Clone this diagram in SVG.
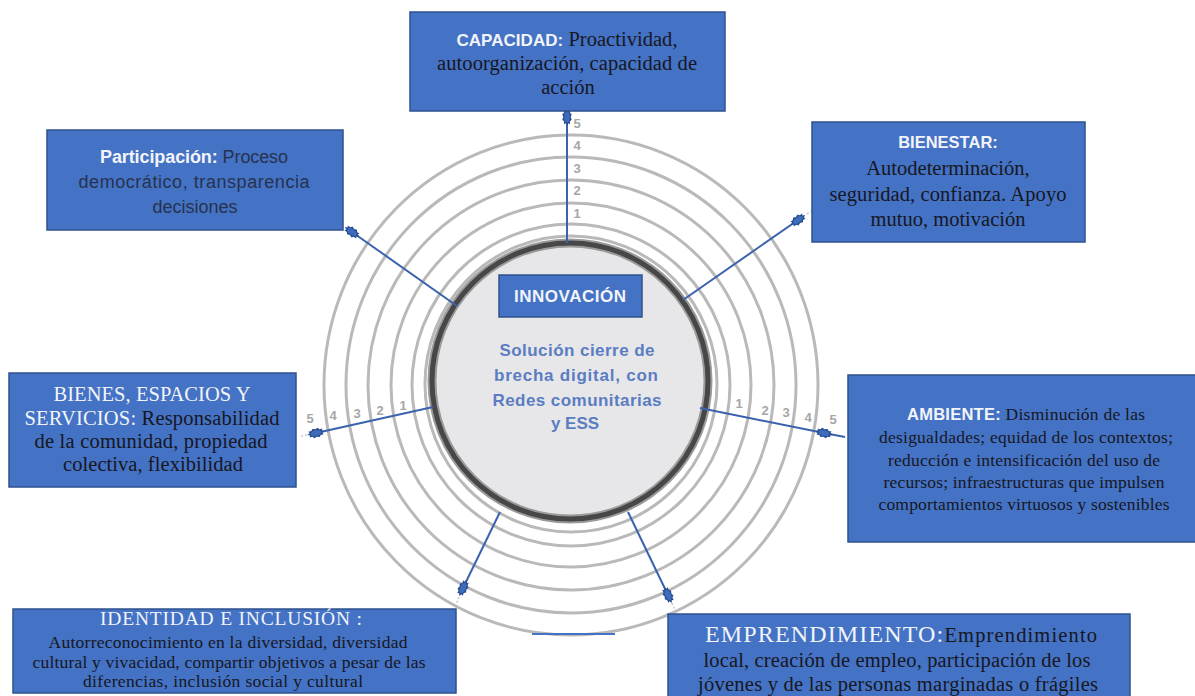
<svg xmlns="http://www.w3.org/2000/svg" width="1195" height="696" viewBox="0 0 1195 696">
<style>
.box{fill:#4472c4;stroke:#2f528f;stroke-width:1.5}
.serif{font-family:"Liberation Serif",serif}
.sans{font-family:"Liberation Sans",sans-serif}
.hd{fill:#f2f4fa}
.dk{fill:#17171f}
.nv{fill:#26324f}
.conn{stroke:#3a62ad;stroke-width:2;fill:none}
.tail{stroke:#c4c8d0;stroke-width:1.5;stroke-dasharray:2 2;fill:none}
.ring{fill:none;stroke:#b9b9b9;stroke-width:3}
.num{font-family:"Liberation Sans",sans-serif;font-weight:bold;font-size:13px;fill:#a6a6a6;text-anchor:middle}
.ctr{font-family:"Liberation Sans",sans-serif;font-weight:bold;font-size:17px;fill:#5a7dc2;text-anchor:middle}
text{text-anchor:middle}
</style>
<defs>
<marker id="splat" viewBox="0 0 16 10" refX="8" refY="5" markerWidth="18" markerHeight="11" markerUnits="userSpaceOnUse" orient="auto">
<polygon points="16,5 13.7,6.1 14.5,7.7 11.8,7.7 10.5,9.3 8,8.4 5.5,9.3 4.2,7.7 1.5,7.7 2.3,6.1 0,5 2.3,3.9 1.5,2.3 4.2,2.3 5.5,0.7 8,1.6 10.5,0.7 11.8,2.3 14.5,2.3 13.7,3.9" fill="#264f94"/>
<ellipse cx="8" cy="5" rx="5" ry="2.6" fill="#3f6cb8"/>
</marker>
</defs>
<rect width="1195" height="696" fill="#ffffff"/>

<g id="rings">
<ellipse class="ring" cx="571" cy="385" rx="247" ry="250"/>
<ellipse class="ring" cx="571" cy="385" rx="225" ry="228"/>
<ellipse class="ring" cx="571" cy="385" rx="203" ry="205"/>
<ellipse class="ring" cx="571" cy="385" rx="180" ry="182"/>
<ellipse class="ring" cx="571" cy="385" rx="159" ry="161"/>
<ellipse class="ring" cx="571" cy="384" rx="146" ry="148"/>
<line x1="532" y1="634" x2="615" y2="634" stroke="#4472c4" stroke-width="2"/>
</g>

<g id="scale-labels">
<text class="num" x="577" y="128">5</text>
<text class="num" x="577" y="150">4</text>
<text class="num" x="577" y="173">3</text>
<text class="num" x="577" y="195">2</text>
<text class="num" x="577" y="218">1</text>
<text class="num" x="310" y="423">5</text>
<text class="num" x="333" y="420">4</text>
<text class="num" x="357" y="418">3</text>
<text class="num" x="380" y="415">2</text>
<text class="num" x="403" y="410">1</text>
<text class="num" x="739" y="408">1</text>
<text class="num" x="765" y="415">2</text>
<text class="num" x="786" y="417">3</text>
<text class="num" x="808" y="422">4</text>
<text class="num" x="833" y="424">5</text>
</g>

<g id="innovacion">
<circle cx="570" cy="381" r="138" fill="#e7e7ea" stroke="#9a9a9a" stroke-width="9"/>
<circle cx="570" cy="381" r="138" fill="none" stroke="#474747" stroke-width="5"/>
<rect class="box" x="499" y="275" width="143" height="42"/>
<text class="sans hd" x="570" y="302" font-size="17" font-weight="bold" textLength="112" lengthAdjust="spacing">INNOVACIÓN</text>
<text class="ctr" x="577" y="356" textLength="155" lengthAdjust="spacing">Solución cierre de</text>
<text class="ctr" x="576" y="381" textLength="164" lengthAdjust="spacing">brecha digital, con</text>
<text class="ctr" x="577" y="406" textLength="169" lengthAdjust="spacing">Redes comunitarias</text>
<text class="ctr" x="575" y="429">y ESS</text>
</g>

<g id="connectors">
<line class="conn" x1="567" y1="243" x2="567" y2="117" marker-end="url(#splat)"/>
<line class="conn" x1="457" y1="306" x2="352" y2="232" marker-end="url(#splat)"/>
<line class="conn" x1="683" y1="300" x2="798" y2="220" marker-end="url(#splat)"/>
<line class="conn" x1="433" y1="407" x2="316" y2="433" marker-end="url(#splat)"/>
<path class="conn" d="M700,408 L824,433 L845,437" marker-mid="url(#splat)"/>
<line class="conn" x1="500" y1="512" x2="463" y2="588" marker-end="url(#splat)"/>
<line class="conn" x1="628" y1="512" x2="668" y2="595" marker-end="url(#splat)"/>
<line class="tail" x1="807" y1="214" x2="812" y2="211"/>
<line class="tail" x1="307" y1="435" x2="301" y2="436"/>
<line class="tail" x1="459" y1="597" x2="456" y2="605"/>
<line class="tail" x1="672" y1="603" x2="675" y2="610"/>
</g>

<g id="capacidad">
<rect class="box" x="410" y="12" width="315" height="99"/>
<text class="serif dk" x="567" y="46" font-size="20.5" textLength="221" lengthAdjust="spacing"><tspan class="sans hd" font-weight="bold" font-size="17">CAPACIDAD:</tspan> Proactividad,</text>
<text class="serif dk" x="567" y="70" font-size="20.5" textLength="260" lengthAdjust="spacing">autoorganización, capacidad de</text>
<text class="serif dk" x="568" y="94" font-size="20.5">acción</text>
</g>

<g id="participacion">
<rect class="box" x="47" y="130" width="296" height="100"/>
<text class="sans nv" x="194" y="163" font-size="18" textLength="188" lengthAdjust="spacing"><tspan class="hd" font-weight="bold">Participación:</tspan> Proceso</text>
<text class="sans nv" x="194" y="188" font-size="18" textLength="231" lengthAdjust="spacing">democrático, transparencia</text>
<text class="sans nv" x="195" y="213" font-size="18">decisiones</text>
</g>

<g id="bienestar">
<rect class="box" x="812" y="122" width="273" height="120"/>
<text class="sans hd" x="948" y="148" font-size="16.5" font-weight="bold">BIENESTAR:</text>
<text class="serif dk" x="948" y="175" font-size="20.5">Autodeterminación,</text>
<text class="serif dk" x="948" y="201" font-size="20.5" textLength="237" lengthAdjust="spacing">seguridad, confianza. Apoyo</text>
<text class="serif dk" x="948" y="226" font-size="20.5">mutuo, motivación</text>
</g>

<g id="ambiente">
<rect class="box" x="848" y="375" width="350" height="167"/>
<text class="serif dk" x="1026" y="420" font-size="17.5" textLength="238" lengthAdjust="spacing"><tspan class="sans hd" font-weight="bold" font-size="16.5">AMBIENTE:</tspan> Disminución de las</text>
<text class="serif dk" x="1026" y="443" font-size="17.5" textLength="294" lengthAdjust="spacing">desigualdades; equidad de los contextos;</text>
<text class="serif dk" x="1024" y="466" font-size="17.5" textLength="272" lengthAdjust="spacing">reducción e intensificación del uso de</text>
<text class="serif dk" x="1024" y="488" font-size="17.5" textLength="281" lengthAdjust="spacing">recursos; infraestructuras que impulsen</text>
<text class="serif dk" x="1024" y="510" font-size="17.5" textLength="291" lengthAdjust="spacing">comportamientos virtuosos y sostenibles</text>
</g>

<g id="bienes">
<rect class="box" x="9" y="373" width="287" height="114"/>
<text class="serif hd" x="152" y="401" font-size="20.5" textLength="197" lengthAdjust="spacing">BIENES, ESPACIOS Y</text>
<text class="serif dk" x="152" y="425" font-size="20.5" textLength="255" lengthAdjust="spacing"><tspan class="hd">SERVICIOS:</tspan> Responsabilidad</text>
<text class="serif dk" x="151" y="448" font-size="20.5" textLength="233" lengthAdjust="spacing">de la comunidad, propiedad</text>
<text class="serif dk" x="153" y="471" font-size="20.5" textLength="180" lengthAdjust="spacing">colectiva, flexibilidad</text>
</g>

<g id="identidad">
<rect class="box" x="13" y="609" width="443" height="84"/>
<text class="serif hd" x="231" y="625" font-size="19.5" textLength="262" lengthAdjust="spacing">IDENTIDAD E INCLUSIÓN :</text>
<text class="serif dk" x="228" y="648" font-size="17.5" textLength="359" lengthAdjust="spacing">Autorreconocimiento en la diversidad, diversidad</text>
<text class="serif dk" x="229" y="668" font-size="17.5" textLength="393" lengthAdjust="spacing">cultural y vivacidad, compartir objetivos a pesar de las</text>
<text class="serif dk" x="223" y="687" font-size="17.5" textLength="280" lengthAdjust="spacing">diferencias, inclusión social y cultural</text>
</g>

<g id="emprendimiento">
<rect class="box" x="668" y="614" width="462" height="90"/>
<text class="serif dk" x="901" y="642" font-size="20.5" textLength="392" lengthAdjust="spacing"><tspan class="hd" font-size="24">EMPRENDIMIENTO:</tspan>Emprendimiento</text>
<text class="serif dk" x="897" y="667" font-size="20.5" textLength="387" lengthAdjust="spacing">local, creación de empleo, participación de los</text>
<text class="serif dk" x="898" y="691" font-size="20.5" textLength="400" lengthAdjust="spacing">jóvenes y de las personas marginadas o frágiles</text>
</g>
</svg>
